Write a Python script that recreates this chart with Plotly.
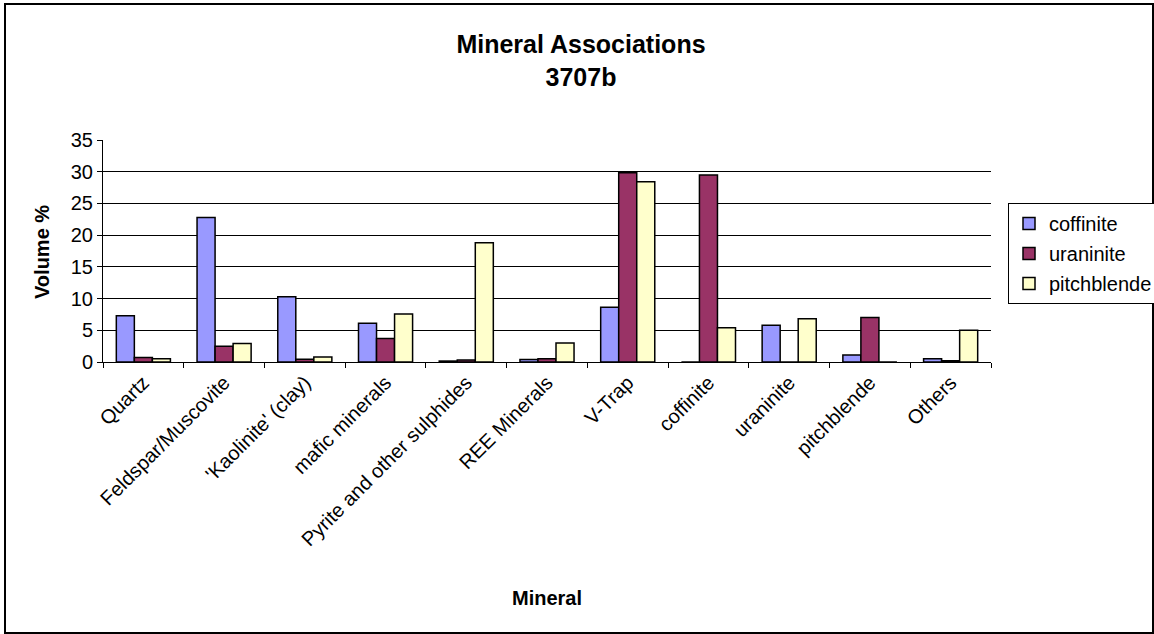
import plotly.graph_objects as go

categories = ["Quartz", "Feldspar/Muscovite", "'Kaolinite' (clay)", "mafic minerals",
              "Pyrite and other sulphides", "REE Minerals", "V-Trap", "coffinite",
              "uraninite", "pitchblende", "Others"]
coffinite = [7.3, 22.8, 10.3, 6.1, 0.15, 0.4, 8.65, 0.0, 5.8, 1.1, 0.5]
uraninite = [0.7, 2.5, 0.45, 3.7, 0.3, 0.5, 29.85, 29.5, 0.0, 7.0, 0.2]
pitchblende = [0.5, 2.9, 0.8, 7.55, 18.8, 3.0, 28.4, 5.4, 6.8, 0.0, 5.0]

series = [("coffinite", coffinite, "#9999FF"),
          ("uraninite", uraninite, "#993366"),
          ("pitchblende", pitchblende, "#FFFFCC")]

W, H = 1154, 634
L, R, T, B = 103, 991, 140, 362

fig = go.Figure()
for name, vals, col in series:
    fig.add_trace(go.Bar(x=categories, y=vals, name=name, legendgroup=name,
                         marker=dict(color=col, line=dict(color="black", width=1.5))))

font = "Liberation Sans, Arial, sans-serif"
fig.update_layout(
    width=W, height=H,
    margin=dict(l=L, r=W - R, t=T, b=H - B, autoexpand=False),
    paper_bgcolor="white", plot_bgcolor="white",
    font=dict(family=font, size=20, color="black"),
    barmode="group", bargap=0.33, bargroupgap=0,
    title=dict(text="<b>Mineral Associations<br>3707b</b>", x=581 / W, xref="container",
               xanchor="center", y=1 - 53 / H, yanchor="top",
               font=dict(size=25, family=font)),
    legend=dict(x=(1008 - L) / (R - L), xanchor="left", y=(B - 203) / (B - T), yanchor="top",
                bordercolor="black", borderwidth=1, bgcolor="white",
                font=dict(size=20), tracegroupgap=1, itemwidth=30),
    showlegend=True,
)
fig.update_xaxes(
    tickangle=-45, tickson="boundaries", ticks="outside", ticklen=5, tickcolor="black",
    showline=True, linecolor="black", linewidth=1, showgrid=False,
    tickfont=dict(size=20),
)
fig.update_yaxes(
    range=[0, 35], dtick=5, ticks="outside", ticklen=5, tickcolor="black",
    showline=True, linecolor="black", linewidth=1,
    showgrid=True, gridcolor="black", gridwidth=1,
    tickfont=dict(size=20),
)
fig.add_annotation(text="<b>Mineral</b>", xref="paper", yref="paper",
                   x=0.5, y=-(598 - B) / (B - T), showarrow=False,
                   font=dict(size=20), xanchor="center", yanchor="middle")
fig.add_annotation(text="<b>Volume %</b>", xref="paper", yref="paper",
                   x=-(L - 42) / (R - L), y=(B - 252) / (B - T), showarrow=False,
                   textangle=-90, font=dict(size=20), xanchor="center", yanchor="middle")

# Outer chart frame
fig.add_shape(type="rect", xref="paper", yref="paper",
              x0=-(L - 5) / (R - L), x1=(W - 1 - L) / (R - L),
              y0=-(H - 1 - B) / (B - T), y1=(B - 4) / (B - T),
              line=dict(color="black", width=2), layer="below")

fig.write_html("out.html")
